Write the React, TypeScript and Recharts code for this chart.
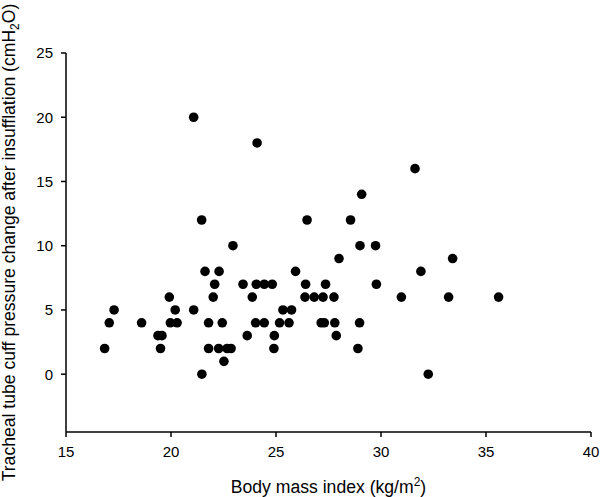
import React from 'react';
import { ScatterChart, Scatter, XAxis, YAxis, Label } from 'recharts';

const bmi = [
  16.84, 17.06, 17.29, 18.6, 19.38, 19.57, 19.5, 19.92, 19.97, 20.2,
  20.29, 21.08, 21.08, 21.46, 21.47, 21.62, 21.79, 21.79, 22.01, 22.08,
  22.29, 22.44, 22.27, 22.52, 22.67, 22.86, 22.95, 23.43, 23.63, 23.87,
  24.03, 24.06, 24.1, 24.44, 24.44, 24.82, 24.92, 24.9, 25.17, 25.33,
  25.62, 25.74, 25.93, 26.38, 26.41, 26.48, 26.82, 27.15, 27.3, 27.24,
  27.36, 27.76, 27.8, 27.87, 28.0, 28.55, 28.9, 28.98, 29.0, 29.08,
  29.74, 29.78, 30.97, 31.62, 31.9, 32.25, 33.22, 33.41, 35.6,
];
const pressureChange = [
  2, 4, 5, 4, 3, 3, 2, 6, 4, 5,
  4, 20, 5, 12, 0, 8, 4, 2, 6, 7,
  8, 4, 2, 1, 2, 2, 10, 7, 3, 6,
  4, 7, 18, 7, 4, 7, 3, 2, 4, 5,
  4, 5, 8, 6, 7, 12, 6, 4, 4, 6,
  7, 6, 4, 3, 9, 12, 2, 4, 10, 14,
  10, 7, 6, 16, 8, 0, 6, 9, 6,
];
const xTicks = [15, 20, 25, 30, 35, 40];
const yTicks = [0, 5, 10, 15, 20, 25];

const data = bmi.map((b, i) => ({ bmi: b, pressure: pressureChange[i] }));

const FONT = '"Liberation Sans", Arial, sans-serif';

const Dot = (props: any) => <circle cx={props.cx} cy={props.cy} r={4.8} fill="#000" />;

const YLabel = (props: any) => {
  const vb = props.viewBox || {};
  const x = vb.x + 15;
  const y = vb.y + vb.height / 2;
  return (
    <text
      x={x}
      y={y}
      transform={`rotate(-90 ${x} ${y})`}
      textAnchor="middle"
      fontFamily={FONT}
      fontSize={17.6}
      fill="#000"
    >
      Tracheal tube cuff pressure change after insufflation (cmH
      <tspan fontSize={12} dy={4}>2</tspan>
      <tspan dy={-4}>O)</tspan>
    </text>
  );
};

const XLabel = (props: any) => {
  const vb = props.viewBox || {};
  const x = vb.x + vb.width / 2;
  const y = vb.y + 61;
  return (
    <text x={x} y={y} textAnchor="middle" fontFamily={FONT} fontSize={17.6} fill="#000">
      Body mass index (kg/m
      <tspan fontSize={12} dy={-7}>2</tspan>
      <tspan dy={7}>)</tspan>
    </text>
  );
};

export default function App() {
  return (
    <div style={{ position: 'absolute', left: 0, top: 0, background: '#fff' }}>
      <ScatterChart width={600} height={497} margin={{ top: 53, right: 9, left: 0, bottom: 0 }}>
        <XAxis
          type="number"
          dataKey="bmi"
          domain={[15, 40]}
          ticks={xTicks}
          allowDataOverflow
          height={65}
          stroke="#000"
          strokeWidth={1.5}
          tickSize={5}
          tickMargin={9}
          tick={{ fill: '#000', fontFamily: FONT, fontSize: 15 }}
        >
          <Label content={<XLabel />} />
        </XAxis>
        <YAxis
          type="number"
          dataKey="pressure"
          domain={[-4.5, 25]}
          ticks={yTicks}
          allowDataOverflow
          width={66}
          stroke="#000"
          strokeWidth={1.5}
          tickSize={5}
          tickMargin={8}
          tick={{ fill: '#000', fontFamily: FONT, fontSize: 15 }}
        >
          <Label content={<YLabel />} />
        </YAxis>
        <Scatter data={data} shape={<Dot />} isAnimationActive={false} />
      </ScatterChart>
    </div>
  );
}
